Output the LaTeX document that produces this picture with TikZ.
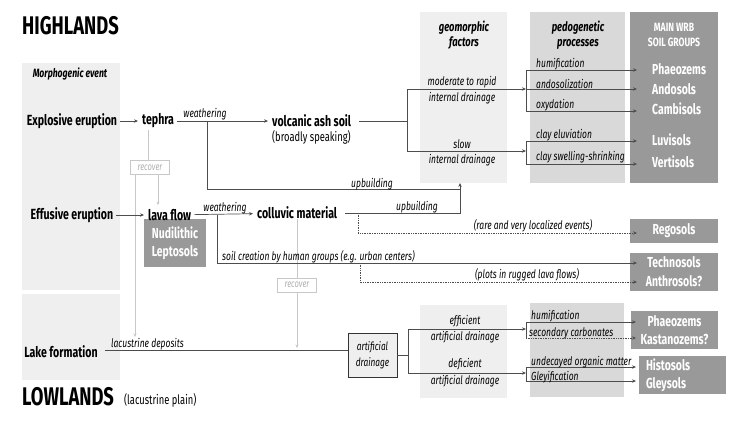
\documentclass[tikz,border=0pt]{standalone}
\usepackage{fontspec}
\setmainfont{Fira Sans}[FakeStretch=0.72]
\usetikzlibrary{arrows.meta,calc}
\definecolor{pnlL}{HTML}{EFEFEF}
\definecolor{pnlM}{HTML}{D9D9D9}
\definecolor{pnlD}{HTML}{999999}
\definecolor{lncol}{HTML}{4D4D4D}
\definecolor{rcol}{HTML}{C8C8C8}
\definecolor{rtext}{HTML}{B0B0B0}
\begin{document}
\begin{tikzpicture}[x=1pt,y=-1pt,
  every node/.style={inner sep=0pt},
  bigt/.style={font=\bfseries\fontsize{25.5}{27}\selectfont},
  evt/.style={font=\bfseries\fontsize{14.7}{16}\selectfont},
  reg/.style={font=\fontsize{13}{15}\selectfont},
  lab/.style={font=\itshape\fontsize{11.8}{13}\selectfont},
  hdr/.style={font=\bfseries\itshape\fontsize{13}{15}\selectfont, align=center},
  soil/.style={font=\bfseries\fontsize{14.5}{18}\selectfont, text=white},
  pnl/.style={fill=#1, anchor=north west},
  soilbox/.style={fill=pnlD, font=\bfseries\fontsize{14.5}{18}\selectfont, text=white, align=center},
  conn/.style={draw=lncol, line width=0.7pt},
  arr/.style={conn, -{Stealth[length=4pt,width=3.4pt]}},
  dotarr/.style={arr, densely dotted},
  gap/.style={shorten <=3pt, shorten >=4pt},
  gline/.style={draw=rcol, line width=0.7pt},
  garr/.style={gline, -{Stealth[length=3.5pt,width=3pt]}},
  recbox/.style={draw=rcol, fill=white, line width=0.7pt, font=\itshape\fontsize{10.5}{12}\selectfont, text=rtext, minimum width=39, minimum height=14},
  artbox/.style={draw=black!80, fill=pnlL, line width=0.9pt, font=\itshape\fontsize{11.5}{16}\selectfont, align=center, minimum width=49, minimum height=44}
]
\useasboundingbox (0,0) rectangle (750,421);
\fill[white] (0,0) rectangle (750,421);

% panels
\node[pnl=pnlL, minimum width=98, minimum height=227] (lpU) at (22,63) {};
\node[pnl=pnlL, minimum width=98, minimum height=86] (lpL) at (22,294) {};
\node[pnl=pnlL, minimum width=87, minimum height=171] (geo) at (420,12) {};
\node[pnl=pnlM, minimum width=95, minimum height=171] (ped) at (530,12) {};
\node[pnl=pnlD, minimum width=88, minimum height=171] (wrb) at (630,12) {};
\node[pnl=pnlL, minimum width=87, minimum height=93] (geoL) at (420,305) {};
\node[pnl=pnlM, minimum width=94, minimum height=94] (pedL) at (530,303) {};

% boxes
\node[soilbox, minimum width=62, minimum height=48] (nudi) at (175,243) {Nudilithic\\Leptosols};
\node[soilbox, minimum width=88, minimum height=24] (rego) at (674,231) {Regosols};
\node[soilbox, minimum width=88, minimum height=38, font=\bfseries\fontsize{14.5}{19}\selectfont] (techno) at (674,272) {Technosols\\Anthrosols?};
\node[soilbox, minimum width=87, minimum height=38] (phka) at (674.5,330) {Phaeozems\\Kastanozems?};
\node[soilbox, minimum width=87, minimum height=38, align=left, text width=72] (higl) at (682,375) {Histosols\\Gleysols};

% titles
\node[bigt, anchor=west] (hl) at (22,26) {HIGHLANDS};
\node[bigt, anchor=west] (ll) at (22,397) {LOWLANDS};
\node[reg, anchor=base west] (llp) at (124,404) {(lacustrine plain)};
\node[font=\bfseries\itshape\fontsize{12}{13}\selectfont] (morph) at (70,74) {Morphogenic event};
\node[hdr] (geoH) at (464,35) {geomorphic\\factors};
\node[hdr] (pedH) at (578,35) {pedogenetic\\processes};
\node[font=\bfseries\fontsize{12}{15}\selectfont, text=white, align=center] (wrbH) at (674,34.5) {MAIN WRB\\SOIL GROUPS};

% main labels
\node[evt] (expl) at (72,121) {Explosive eruption};
\node[evt, anchor=west] (teph) at (142,121) {tephra};
\node[evt, anchor=west] (vas) at (272,121) {volcanic ash soil};
\node[reg, anchor=west] (vas2) at (272,137) {(broadly speaking)};
\node[evt] (effu) at (72,215) {Effusive eruption};
\node[evt, anchor=west] (lava) at (148,215) {lava flow};
\node[evt, anchor=west] (coll) at (257,213) {colluvic material};
\node[evt] (lake) at (61,352) {Lake formation};
\node[artbox] (art) at (372.5,355) {artificial\\drainage};

% soil names in WRB panel
\node[soil, anchor=west] (phae) at (652,69) {Phaeozems};
\node[soil, anchor=west] (ando) at (652,89) {Andosols};
\node[soil, anchor=west] (camb) at (652,109) {Cambisols};
\node[soil, anchor=west] (luvi) at (652,140) {Luvisols};
\node[soil, anchor=west] (vert) at (652,162) {Vertisols};

% coordinates
\coordinate (w1) at (207,121);
\coordinate (u1) at (460,189);
\coordinate (ucor) at (460,213);
\coordinate (gtip) at (460,183);
\coordinate (jA) at (407,121);
\coordinate (pA) at (526,89);
\coordinate (pB) at (526,151);
\coordinate (tPh) at (637,70);
\coordinate (tAn) at (637,89);
\coordinate (tCa) at (637,111);
\coordinate (tLu) at (637,141);
\coordinate (tVe) at (637,164);
\coordinate (w2) at (217,215);
\coordinate (tTe) at (637,263);
\coordinate (d1) at (358,213);
\coordinate (tRe) at (637,233);
\coordinate (d2) at (360,263);
\coordinate (tAt) at (637,282);
\coordinate (lk) at (105,350);
\coordinate (jL) at (408,355);
\coordinate (pC) at (526,329);
\coordinate (pD) at (526,373);
\coordinate (tPh2) at (636,322);
\coordinate (tKa) at (636,338);
\coordinate (tHi) at (636,367);
\coordinate (tGl) at (636,381);
\coordinate (r1a) at (148,130);
\coordinate (r1b) at (158,174);
\coordinate (r1c) at (135,174);
\coordinate (r1d) at (135,337);
\coordinate (r2t) at (297,348);

% recover boxes and grey connectors
\node[recbox] (rec1) at (150,167.5) {recover};
\node[recbox] (rec2) at (297,285) {recover};
\draw[gline] (r1a) -- (r1a |- rec1.north);
\draw[garr, shorten >=4pt] (r1b) -- (r1b |- lava.north);
\draw[garr] (r1c) -- (r1d);
\draw[gline] (coll.south -| rec2.north) -- (rec2.north);
\draw[garr] (rec2.south) -- (r2t);

% highland connectors
\draw[arr, gap] (expl) -- (teph);
\draw[arr, gap] (teph) -- (vas);
\draw[conn] (w1) |- (u1);
\draw[arr] ($(coll.east)+(8,0)$) -- (ucor) -- (gtip);
\draw[conn] ($(vas.east)+(8,0)$) -- (jA);
\draw[arr] (jA) |- (pA);
\draw[arr] (jA) |- (pB);
\draw[conn] (pA |- tPh) -- (pA |- tCa);
\draw[arr] (pA |- tPh) -- (tPh);
\draw[arr] (pA) -- (tAn);
\draw[arr] (pA |- tCa) -- (tCa);
\draw[conn] (pB |- tLu) -- (pB |- tVe);
\draw[arr] (pB |- tLu) -- (tLu);
\draw[arr] (pB |- tVe) -- (tVe);
\draw[arr, gap] (effu) -- (lava);
\draw[arr, gap] (lava) -- (coll);
\draw[arr] (w2) |- (tTe);
\draw[dotarr] (d1) |- (tRe);
\draw[dotarr] (d2) |- (tAt);

% lowland connectors
\draw[conn] (lk) -- (lk -| art.west);
\draw[conn] (art.east) -- (jL);
\draw[arr] (jL) |- (pC);
\draw[arr] (jL) |- (pD);
\draw[conn] (pC |- tPh2) -- (pC |- tKa);
\draw[arr] (pC |- tPh2) -- (tPh2);
\draw[dotarr] (pC |- tKa) -- (tKa);
\draw[conn] (pD |- tHi) -- (pD |- tGl);
\draw[arr] (pD |- tHi) -- (tHi);
\draw[arr] (pD |- tGl) -- (tGl);

% italic labels
\node[lab, anchor=base] (wl1) at (205,117) {weathering};
\node[lab, anchor=base] (ub1) at (372,187) {upbuilding};
\node[lab, anchor=base] (ub2) at (417,210) {upbuilding};
\node[lab, anchor=base] (wl2) at (225,211) {weathering};
\node[lab, anchor=base west] (soilc) at (222,260) {soil creation by human groups (e.g. urban centers)};
\node[lab, anchor=base] (rare) at (533,229) {(rare and very localized events)};
\node[lab, anchor=base] (plots) at (527,278) {(plots in rugged lava flows)};
\node[lab, anchor=base west] (lacd) at (111,347) {lacustrine deposits};

\node[lab, anchor=base] (g1) at (462,85) {moderate to rapid};
\node[lab, anchor=base] (g2) at (462,101) {internal drainage};
\node[lab, anchor=base] (g3) at (462,148) {slow};
\node[lab, anchor=base] (g4) at (462,163) {internal drainage};
\node[lab, anchor=base] (g5) at (465,324) {efficient};
\node[lab, anchor=base] (g6) at (465,340) {artificial drainage};
\node[lab, anchor=base] (g7) at (465,367) {deficient};
\node[lab, anchor=base] (g8) at (465,384) {artificial drainage};

\node[lab, anchor=base west] (p1) at (536,67) {humification};
\node[lab, anchor=base west] (p2) at (536,88) {andosolization};
\node[lab, anchor=base west] (p3) at (536,108) {oxydation};
\node[lab, anchor=base west] (p4) at (536,138) {clay eluviation};
\node[lab, anchor=base west] (p5) at (536,160) {clay swelling-shrinking};
\node[lab, anchor=base west] (p6) at (531,319) {humification};
\node[lab, anchor=base west] (p7) at (529,336) {secondary carbonates};
\node[lab, anchor=base west] (p8) at (531,365) {undecayed organic matter};
\node[lab, anchor=base west] (p9) at (531,380) {Gleyification};
\end{tikzpicture}
\end{document}
